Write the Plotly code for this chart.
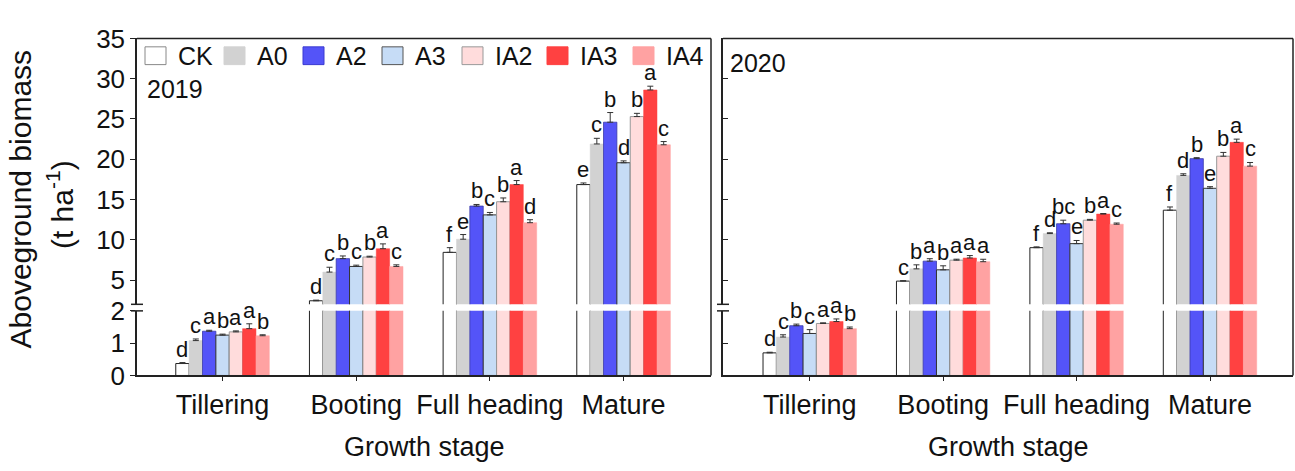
import plotly.graph_objects as go

W, H = 1295, 471

stages = ["Tillering", "Booting", "Full heading", "Mature"]
treatments = ["CK", "A0", "A2", "A3", "IA2", "IA3", "IA4"]

# ---- 2019 ----
ck_2019 = [0.37, 2.44, 8.45, 16.86]
a0_2019 = [1.08, 6.00, 10.08, 21.90]
a2_2019 = [1.37, 7.67, 14.19, 24.60]
a3_2019 = [1.25, 6.70, 13.10, 19.57]
ia2_2019 = [1.35, 7.87, 14.73, 25.30]
ia3_2019 = [1.45, 8.90, 16.86, 28.60]
ia4_2019 = [1.23, 6.70, 12.13, 21.80]

ck_err_2019 = [0.03, 0.08, 0.58, 0.20]
a0_err_2019 = [0.05, 0.60, 0.58, 0.70]
a2_err_2019 = [0.03, 0.33, 0.20, 1.20]
a3_err_2019 = [0.03, 0.16, 0.30, 0.23]
ia2_err_2019 = [0.03, 0.10, 0.47, 0.40]
ia3_err_2019 = [0.15, 0.60, 0.50, 0.47]
ia4_err_2019 = [0.03, 0.20, 0.37, 0.40]

ck_let_2019 = ["d", "d", "f", "e"]
a0_let_2019 = ["c", "c", "e", "c"]
a2_let_2019 = ["a", "b", "b", "b"]
a3_let_2019 = ["b", "c", "c", "d"]
ia2_let_2019 = ["a", "b", "b", "b"]
ia3_let_2019 = ["a", "a", "a", "a"]
ia4_let_2019 = ["b", "c", "d", "c"]

# ---- 2020 ----
ck_2020 = [0.70, 4.88, 9.03, 13.68]
a0_2020 = [1.19, 6.40, 10.78, 18.00]
a2_2020 = [1.54, 7.36, 12.00, 20.08]
a3_2020 = [1.30, 6.28, 9.53, 16.40]
ia2_2020 = [1.61, 7.48, 12.44, 20.38]
ia3_2020 = [1.67, 7.75, 13.20, 22.10]
ia4_2020 = [1.45, 7.29, 11.94, 19.15]

ck_err_2020 = [0.02, 0.05, 0.10, 0.40]
a0_err_2020 = [0.07, 0.50, 0.10, 0.20]
a2_err_2020 = [0.05, 0.30, 0.44, 0.12]
a3_err_2020 = [0.12, 0.50, 0.39, 0.20]
ia2_err_2020 = [0.02, 0.12, 0.10, 0.47]
ia3_err_2020 = [0.08, 0.30, 0.07, 0.40]
ia4_err_2020 = [0.05, 0.30, 0.15, 0.45]

ck_let_2020 = ["d", "c", "f", "f"]
a0_let_2020 = ["c", "b", "d", "d"]
a2_let_2020 = ["b", "a", "bc", "b"]
a3_let_2020 = ["c", "b", "e", "e"]
ia2_let_2020 = ["a", "a", "b", "b"]
ia3_let_2020 = ["a", "a", "a", "a"]
ia4_let_2020 = ["b", "a", "c", "c"]

y_lower_ticks = [0, 1, 2]
y_upper_ticks = [5, 10, 15, 20, 25, 30, 35]

fills = ["#ffffff", "#d2d2d2", "#5454f8", "#c6dcf6", "#ffdcdc", "#ff4141", "#ffa2a2"]
lines = ["#222222", "#d2d2d2", "#3a3aa8", "#333333", "#999999", "#ff4141", "#ffa2a2"]
lwid = [1.0, 0.5, 0.8, 1.0, 1.0, 0.5, 0.5]
legend_lines = ["#888888", "#d2d2d2", "#3a3ad0", "#555555", "#999999", "#ff4141", "#ffa2a2"]

data_2019 = [ck_2019, a0_2019, a2_2019, a3_2019, ia2_2019, ia3_2019, ia4_2019]
err_2019 = [ck_err_2019, a0_err_2019, a2_err_2019, a3_err_2019, ia2_err_2019, ia3_err_2019, ia4_err_2019]
let_2019 = [ck_let_2019, a0_let_2019, a2_let_2019, a3_let_2019, ia2_let_2019, ia3_let_2019, ia4_let_2019]
data_2020 = [ck_2020, a0_2020, a2_2020, a3_2020, ia2_2020, ia3_2020, ia4_2020]
err_2020 = [ck_err_2020, a0_err_2020, a2_err_2020, a3_err_2020, ia2_err_2020, ia3_err_2020, ia4_err_2020]
let_2020 = [ck_let_2020, a0_let_2020, a2_let_2020, a3_let_2020, ia2_let_2020, ia3_let_2020, ia4_let_2020]

FONT = "Liberation Sans, Arial, sans-serif"
TXT = "#111111"
AX = "#222222"

def px(x):
    return x / W

def py(y):
    return 1 - y / H

BW = 0.1
xpos = list(range(len(stages)))

fig = go.Figure()
annotations = []

panels = [
    (data_2019, err_2019, let_2019, "x", "y", "y2"),
    (data_2020, err_2020, let_2020, "x2", "y3", "y4"),
]
for data, errs, lets, xa, ylo, yhi in panels:
    for k, name in enumerate(treatments):
        for ya in (ylo, yhi):
            fig.add_trace(go.Bar(
                x=xpos, y=data[k], name=name, width=BW, offset=(k - 3.5) * BW,
                marker=dict(color=fills[k], line=dict(color=lines[k], width=lwid[k])),
                error_y=dict(type="data", symmetric=False, array=errs[k],
                             arrayminus=[0] * len(stages), color="#333333",
                             thickness=1, width=3),
                xaxis=xa, yaxis=ya, showlegend=False, hoverinfo="skip",
            ))
        for i in xpos:
            top = data[k][i] + errs[k][i]
            annotations.append(dict(
                x=i + (k - 3) * BW, y=top, xref=xa, yref=(ylo if top < 2 else yhi),
                text=lets[k][i], showarrow=False, yanchor="bottom", yshift=-1,
                font=dict(family=FONT, size=22, color=TXT),
            ))

lo_dom = [py(385), py(316)]
hi_dom = [py(309), py(25)]
x1_dom = [px(137), px(711)]
x2_dom = [px(723), px(1293)]

xcommon = dict(showline=True, linecolor=AX, linewidth=1.5, ticks="outside", ticklen=4,
               tickcolor=AX, tickvals=xpos, ticktext=stages, showgrid=False, zeroline=False,
               tickfont=dict(family=FONT, size=27, color=TXT), fixedrange=True)
fig.update_layout(
    xaxis=dict(domain=x1_dom, range=[-0.64, 3.654], anchor="y", **xcommon),
    xaxis2=dict(domain=x2_dom, range=[-0.65, 3.622], anchor="y3", **xcommon),
    yaxis=dict(domain=lo_dom, range=[0, 2], anchor="x", tickvals=y_lower_ticks,
               showline=True, linecolor=AX, linewidth=1.5, ticks="outside", ticklen=5,
               tickcolor=AX, showgrid=False, zeroline=False,
               tickfont=dict(family=FONT, size=26, color=TXT)),
    yaxis2=dict(domain=hi_dom, range=[2, 35], anchor="x", tickvals=y_upper_ticks,
                showline=True, linecolor=AX, linewidth=1.5, ticks="outside", ticklen=5,
                tickcolor=AX, showgrid=False, zeroline=False,
                tickfont=dict(family=FONT, size=26, color=TXT)),
    yaxis3=dict(domain=lo_dom, range=[0, 2], anchor="x2", tickvals=y_lower_ticks,
                showline=True, linecolor=AX, linewidth=1.5, ticks="inside", ticklen=5,
                tickcolor=AX, showgrid=False, zeroline=False, showticklabels=False),
    yaxis4=dict(domain=hi_dom, range=[2, 35], anchor="x2", tickvals=y_upper_ticks,
                showline=True, linecolor=AX, linewidth=1.5, ticks="inside", ticklen=5,
                tickcolor=AX, showgrid=False, zeroline=False, showticklabels=False),
)

shapes = []
# panel frames (top and right borders)
for xl, xr in [(137, 711), (723, 1293)]:
    shapes.append(dict(type="line", xref="paper", yref="paper", x0=px(xl), x1=px(xr),
                       y0=py(25), y1=py(25), line=dict(color=AX, width=1.5)))
    shapes.append(dict(type="line", xref="paper", yref="paper", x0=px(xr), x1=px(xr),
                       y0=py(25), y1=py(385), line=dict(color=AX, width=1.5)))
    # break marks
    for yb in (309, 316):
        shapes.append(dict(type="line", xref="paper", yref="paper", x0=px(xl - 6), x1=px(xl + 6),
                           y0=py(yb), y1=py(yb), line=dict(color=AX, width=1.5)))

# legend (custom)
leg_box_x = [145, 224, 303, 382, 462, 547, 633]
for k, name in enumerate(treatments):
    x0 = leg_box_x[k]
    shapes.append(dict(type="rect", xref="paper", yref="paper", x0=px(x0), x1=px(x0 + 21),
                       y0=py(53), y1=py(34), fillcolor=fills[k],
                       line=dict(color=legend_lines[k], width=1)))
    annotations.append(dict(x=px(x0 + 31), y=py(44), xref="paper", yref="paper", text=name,
                            showarrow=False, xanchor="left", yanchor="middle",
                            font=dict(family=FONT, size=25, color=TXT)))

annotations += [
    dict(x=px(145), y=py(79), xref="paper", yref="paper", text="2019", showarrow=False,
         xanchor="left", yanchor="middle", font=dict(family=FONT, size=25, color=TXT)),
    dict(x=px(728), y=py(51), xref="paper", yref="paper", text="2020", showarrow=False,
         xanchor="left", yanchor="middle", font=dict(family=FONT, size=25, color=TXT)),
    dict(x=px(424), y=py(461), xref="paper", yref="paper", text="Growth stage", showarrow=False,
         xanchor="center", yanchor="middle", font=dict(family=FONT, size=27, color=TXT)),
    dict(x=px(1008), y=py(461), xref="paper", yref="paper", text="Growth stage", showarrow=False,
         xanchor="center", yanchor="middle", font=dict(family=FONT, size=27, color=TXT)),
    dict(x=px(20), y=py(197), xref="paper", yref="paper", text="Aboveground biomass",
         showarrow=False, textangle=-90, xanchor="center", yanchor="middle",
         font=dict(family=FONT, size=30, color=TXT)),
    dict(x=px(60), y=py(203), xref="paper", yref="paper", text="(t ha<sup>-1</sup>)",
         showarrow=False, textangle=-90, xanchor="center", yanchor="middle",
         font=dict(family=FONT, size=30, color=TXT)),
]

fig.update_layout(
    width=W, height=H, margin=dict(l=0, r=0, t=0, b=0),
    paper_bgcolor="white", plot_bgcolor="white",
    barmode="overlay", showlegend=False,
    shapes=shapes, annotations=annotations,
    font=dict(family=FONT, color=TXT),
)

fig.write_html("out.html", config={"displayModeBar": False},
               post_script="document.body.style.margin='0';")
